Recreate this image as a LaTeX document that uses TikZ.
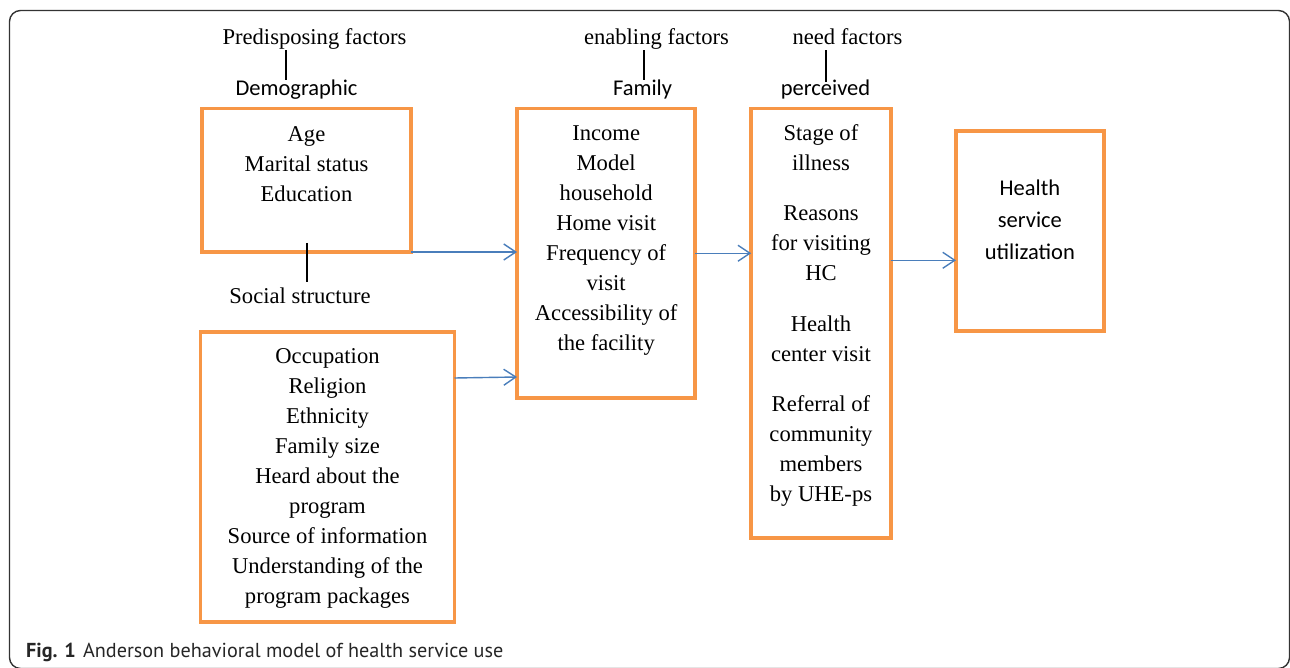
\documentclass[tikz,border=0pt]{standalone}
\usepackage{fontspec}
\setmainfont{Liberation Serif}
\newfontfamily\calibrifont{Carlito}
\newfontfamily\capfont{PT Sans}
\usetikzlibrary{arrows.meta, positioning}
\definecolor{boxorange}{HTML}{F79646}
\definecolor{arrowblue}{HTML}{4A7EBB}

\begin{document}
\begin{tikzpicture}[x=1pt,y=-1pt,>={Straight Barb[length=12pt,width=16pt]}]
        \tikzstyle{factor}=[rectangle,draw=boxorange,line width=3.8pt,outer sep=0pt,inner sep=0pt]
        \tikzstyle{items}=[inner sep=0pt,align=center,font=\fontsize{22.6}{30}\selectfont]
        \tikzstyle{sansitems}=[inner sep=0pt,align=center,font=\calibrifont\fontsize{22.5}{32}\selectfont]
        \tikzstyle{seriflbl}=[inner sep=0pt,anchor=base,font=\fontsize{22.6}{30}\selectfont]
        \tikzstyle{sanslbl}=[inner sep=0pt,anchor=base,font=\calibrifont\fontsize{22.5}{32}\selectfont]
        \tikzstyle{tick}=[line width=2pt]
        \tikzstyle{flow}=[->,draw=arrowblue,line width=1.4pt]
        \useasboundingbox (0,0) rectangle (1290,668);
        % outer frame
        \draw[black!80,line width=1.4pt,rounded corners=11pt] (9.5,10.5) rectangle (1289.5,668.5);
        % factor boxes
        \node[factor,minimum width=209pt,minimum height=143.5pt] (demo) at (306.5,180.25) {};
        \node[factor,minimum width=254pt,minimum height=290.3pt] (social) at (327.5,477.15) {};
        \node[factor,minimum width=178.3pt,minimum height=289.5pt] (family) at (606.15,253.25) {};
        \node[factor,minimum width=139.5pt,minimum height=429.5pt] (need) at (820.95,323.25) {};
        \node[factor,minimum width=147.7pt,minimum height=200pt] (use) at (1029.85,231.3) {};
        % box contents
        \node[items,below=17.5pt of demo.north] (demotxt) {Age\\Marital status\\Education};
        \node[items,below=16.3pt of social.north] (socialtxt) {Occupation\\Religion\\Ethnicity\\Family size\\Heard about the\\program\\Source of information\\Understanding of the\\program packages};
        \node[items,below=16.8pt of family.north] (familytxt) {Income\\Model\\household\\Home visit\\Frequency of\\visit\\Accessibility of\\the facility};
        \node[items,below=15.8pt of need.north] (needtxt) {Stage of\\illness\\[20.5pt]Reasons\\for visiting\\HC\\[20.5pt]Health\\center visit\\[20.5pt]Referral of\\community\\members\\by UHE-ps};
        \node[sansitems,below=48.5pt of use.north] (usetxt) {Health\\service\\utilization};
        % factor labels
        \node[seriflbl] (predis) at (314.5,44.5) {Predisposing factors};
        \node[sanslbl] (demog) at (296.5,95.5) {Demographic};
        \node[seriflbl] (socstr) at (300,304) {Social structure};
        \node[seriflbl] (enab) at (656.5,44.5) {enabling factors};
        \node[sanslbl] (famly) at (642.5,95.5) {Family};
        \node[seriflbl] (needf) at (847.5,44.5) {need factors};
        \node[sanslbl] (perc) at (825.5,95.5) {perceived};
        \draw[tick] ([xshift=-10.5pt]demog.north) -- ([xshift=-10.5pt]demog.north |- predis.south);
        \draw[tick] ([yshift=9pt]demo.south) -- ([yshift=6.5pt]demo.south |- socstr.north);
        \draw[tick] ([xshift=1.5pt]famly.north) -- ([xshift=1.5pt]famly.north |- enab.south);
        \draw[tick] ([yshift=-2pt]perc.north) -- ([yshift=-5pt]perc.north |- needf.south);
        % arrows
        \coordinate (useIn) at ([yshift=-29pt]use.west);
        \draw[flow] (demo.south east) -- (demo.south east -| family.west);
        \draw[flow] ([yshift=-46pt]social.north east) -- ([yshift=21pt]family.south west);
        \draw[flow] (family.east) -- (family.east -| need.west);
        \draw[flow] (need.east |- useIn) -- (useIn);
        % caption
        \node[anchor=base west,inner sep=0pt,font=\capfont\fontsize{20.2}{24}\selectfont,text=black!85] (cap) at (26,657) {\textbf{Fig. 1}\hspace{0.35em}Anderson behavioral model of health service use};
\end{tikzpicture}
\end{document}
